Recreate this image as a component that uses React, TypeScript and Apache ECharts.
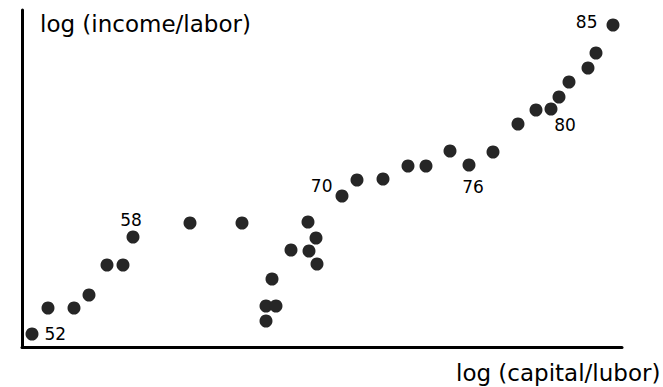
import React, { useEffect, useRef } from "react";
import * as echarts from "echarts";

const years = [52, 53, 54, 55, 56, 57, 58, 59, 60, 61, 62, 63, 64, 65, 66, 67, 68, 69, 70, 71, 72, 73, 74, 75, 76, 77, 78, 79, 80, 81, 82, 83, 84, 85];
const logCapitalLabor = [10, 26, 52, 67, 85, 101, 111, 168, 220, 244, 244, 254, 250, 269, 287, 295, 294, 286, 320, 335, 361, 386, 404, 428, 447, 471, 496, 514, 529, 537, 547, 566, 574, 591];
const logIncomeLabor = [13, 39, 39, 52, 82, 82, 110, 124, 124, 26, 41, 41, 68, 97, 96, 83, 109, 125, 151, 167, 168, 181, 181, 196, 182, 195, 223, 237, 238, 250, 265, 279, 294, 322];
const labeledYears = [52, 58, 70, 76, 80, 85];

const xAxisTitle = "log (capital/lubor)";
const yAxisTitle = "log (income/labor)";

const FONT = "'DejaVu Sans', sans-serif";

const labelStyles: Record<number, any> = {
  52: { position: "right", distance: 6, offset: [0, 0] },
  58: { position: "top", distance: 2, offset: [-2, 0] },
  70: { position: "left", distance: 3, offset: [0, -10] },
  76: { position: "bottom", distance: 7, offset: [4, 0] },
  80: { position: "bottom", distance: 1, offset: [14, 0] },
  85: { position: "left", distance: 9, offset: [0, -3] },
};

export default function App() {
  const ref = useRef<HTMLDivElement>(null);
  useEffect(() => {
    if (!ref.current) return;
    const chart = echarts.init(ref.current, undefined, { renderer: "svg" });
    const data = years.map((yr, i) => {
      const item: any = { value: [logCapitalLabor[i], logIncomeLabor[i]], name: String(yr) };
      if (labeledYears.includes(yr)) {
        item.label = {
          show: true,
          formatter: String(yr),
          color: "#000",
          opacity: 1,
          fontSize: 17,
          fontWeight: 500,
          fontFamily: FONT,
          ...labelStyles[yr],
        };
      }
      return item;
    });
    chart.setOption({
      animation: false,
      backgroundColor: "#ffffff",
      grid: { left: 22, top: 10, width: 600, height: 337 },
      xAxis: {
        type: "value",
        min: 0,
        max: 600,
        axisLine: { show: true, onZero: false, lineStyle: { color: "#000", width: 3 } },
        axisTick: { show: false },
        axisLabel: { show: false },
        splitLine: { show: false },
      },
      yAxis: {
        type: "value",
        min: 0,
        max: 337,
        axisLine: { show: true, onZero: false, lineStyle: { color: "#000", width: 3 } },
        axisTick: { show: false },
        axisLabel: { show: false },
        splitLine: { show: false },
      },
      graphic: [
        {
          type: "text",
          left: 40,
          top: 12,
          style: { text: yAxisTitle, fontSize: 23, fontFamily: FONT, fill: "#000" },
        },
        {
          type: "text",
          left: 456,
          top: 361,
          style: { text: xAxisTitle, fontSize: 23, fontFamily: FONT, fill: "#000" },
        },
      ],
      series: [
        {
          type: "scatter",
          symbol: "circle",
          symbolSize: 13,
          itemStyle: { color: "#262626", opacity: 1 },
          data,
        },
      ],
    });
    return () => chart.dispose();
  }, []);
  return <div ref={ref} style={{ position: "fixed", left: 0, top: 0, width: 663, height: 387 }} />;
}
